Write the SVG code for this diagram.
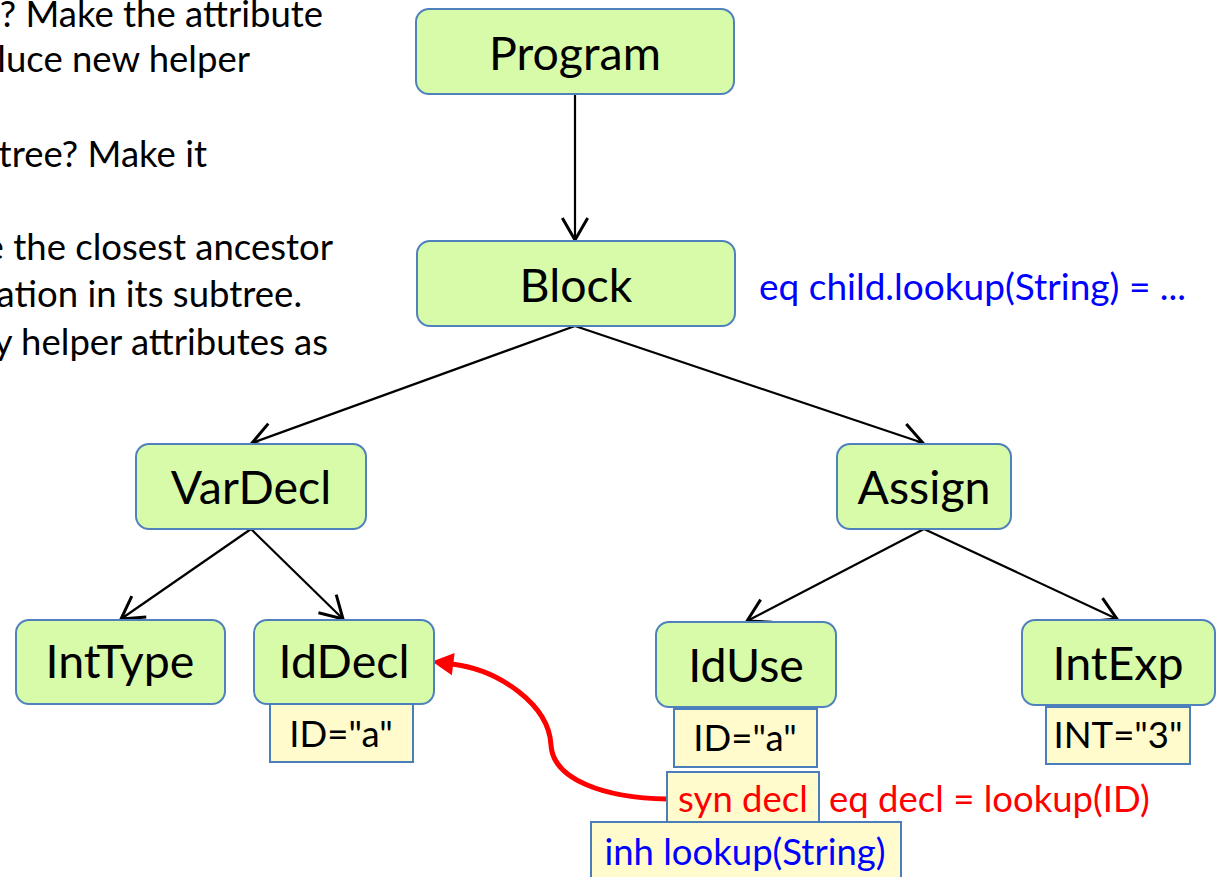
<svg xmlns="http://www.w3.org/2000/svg" width="1216" height="877" viewBox="0 0 1216 877">
  <style>
    .node { fill: #D8FBA9; stroke: #4F81BD; stroke-width: 2; }
    .attr { fill: #FFFBCC; stroke: #4A7EBB; stroke-width: 2; }
    .lbl { font-family: Lato, "Liberation Sans", sans-serif; font-size: 46.5px; fill: #000; text-anchor: middle; }
    .al { font-family: Lato, "Liberation Sans", sans-serif; font-size: 36.5px; fill: #000; text-anchor: middle; }
    .side { font-family: Lato, "Liberation Sans", sans-serif; font-size: 36.5px; fill: #000; text-anchor: end; }
    .edge { stroke: #000; stroke-width: 2.2; fill: none; marker-end: url(#open); }
  </style>
  <defs>
    <marker id="open" markerUnits="userSpaceOnUse" markerWidth="30" markerHeight="30" viewBox="-22 -13 26 26" refX="0" refY="0" orient="auto">
      <path d="M-19,-11 L0,0 L-19,11" fill="none" stroke="#000" stroke-width="2.6"/>
    </marker>
    <marker id="red" markerUnits="userSpaceOnUse" markerWidth="30" markerHeight="30" viewBox="-2 -12 24 24" refX="1" refY="0" orient="auto">
      <path d="M0,-9 L17,0 L0,9 Z" fill="#FF0000"/>
    </marker>
  </defs>

  <g id="side-text">
    <text x="323" y="27" class="side">? Make the attribute</text>
    <text x="250" y="72" class="side">luce new helper</text>
    <text x="207" y="167" class="side">tree? Make it</text>
    <text x="333" y="260" class="side">e the closest ancestor</text>
    <text x="302" y="307" class="side">ation in its subtree.</text>
    <text x="328" y="355" class="side">y helper attributes as</text>
  </g>

  <g id="connectors">
    <line class="edge" x1="575" y1="94" x2="575" y2="240"/>
    <line class="edge" x1="575" y1="326" x2="252" y2="443"/>
    <line class="edge" x1="575" y1="326" x2="923" y2="443"/>
    <line class="edge" x1="251" y1="529" x2="121" y2="619"/>
    <line class="edge" x1="251" y1="529" x2="343" y2="619"/>
    <line class="edge" x1="924" y1="529" x2="747" y2="621"/>
    <line class="edge" x1="924" y1="529" x2="1117" y2="619"/>
    <path d="M667,799 C605,798 553,780 551,745 C549,705 500,670 452,664" fill="none" stroke="#FF0000" stroke-width="5" marker-end="url(#red)"/>
  </g>

  <g id="Program"><rect class="node" x="416" y="9" width="318" height="85" rx="13"/><text class="lbl" x="575" y="70">Program</text></g>
  <g id="Block"><rect class="node" x="417" y="241" width="318" height="85" rx="13"/><text class="lbl" x="576" y="302">Block</text></g>
  <text x="759" y="300" font-family="Lato, 'Liberation Sans', sans-serif" font-size="37" fill="#0000FF">eq child.lookup(String) = ...</text>
  <g id="VarDecl"><rect class="node" x="136" y="444" width="230" height="85" rx="13"/><text class="lbl" x="251" y="504">VarDecl</text></g>
  <g id="Assign"><rect class="node" x="837" y="444" width="174" height="85" rx="13"/><text class="lbl" x="924" y="504">Assign</text></g>
  <g id="IntType"><rect class="node" x="16" y="620" width="209" height="84" rx="13"/><text class="lbl" x="120" y="678">IntType</text></g>
  <g id="IdDecl"><rect class="node" x="254" y="620" width="180" height="84" rx="13"/><text class="lbl" x="344" y="678">IdDecl</text></g>
  <g id="IdDecl-ID"><rect class="attr" x="270" y="704" width="143" height="58"/><text class="al" x="341" y="747">ID="a"</text></g>
  <g id="IdUse"><rect class="node" x="656" y="622" width="180" height="85" rx="13"/><text class="lbl" x="746" y="682">IdUse</text></g>
  <g id="IdUse-ID"><rect class="attr" x="674" y="709" width="143" height="58"/><text class="al" x="745" y="751">ID="a"</text></g>
  <g id="IdUse-syn"><rect class="attr" x="667" y="772" width="152" height="50"/><text class="al" x="743" y="812" style="fill:#FF0000">syn decl</text></g>
  <text x="829" y="812" font-family="Lato, 'Liberation Sans', sans-serif" font-size="36.5" fill="#FF0000">eq decl = lookup(ID)</text>
  <g id="IdUse-inh"><rect class="attr" x="591" y="822" width="310" height="60"/><text class="al" x="745" y="865" style="fill:#0000FF">inh lookup(String)</text></g>
  <g id="IntExp"><rect class="node" x="1022" y="620" width="193" height="85" rx="13"/><text class="lbl" x="1118" y="680">IntExp</text></g>
  <g id="IntExp-INT"><rect class="attr" x="1046" y="707" width="144" height="57"/><text class="al" x="1118" y="748">INT="3"</text></g>
</svg>
